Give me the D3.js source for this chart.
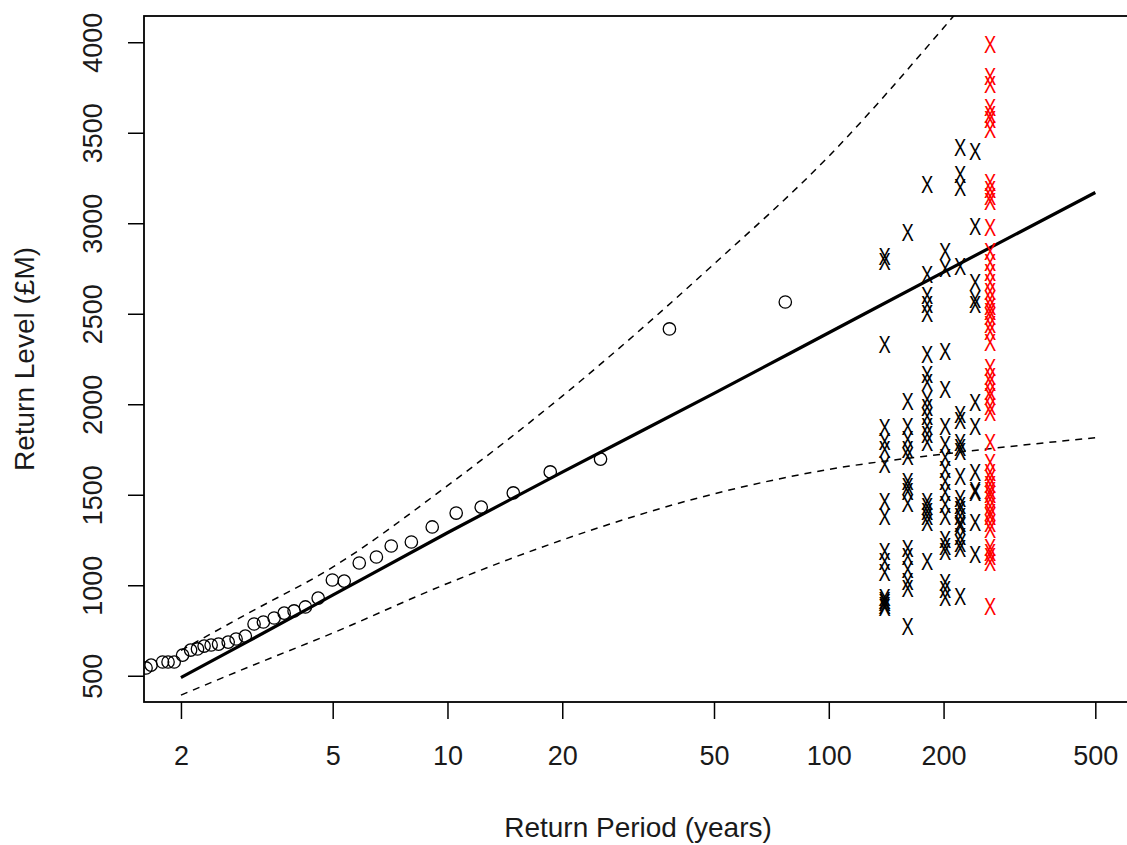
<!DOCTYPE html>
<html>
<head>
<meta charset="utf-8">
<script src="https://cdn.jsdelivr.net/npm/d3@7"></script>
<style>
  body { margin: 0; background: #fff; }
  svg { display: block; font-family: "Liberation Sans", Arial, sans-serif; }
</style>
</head>
<body>
<div id="chart"></div>
<script>
// fitted return level curve and its confidence band
const returnPeriods = [2, 3, 5, 10, 20, 50, 100, 200, 500];
const returnLevel = [490, 690, 945, 1290, 1625, 2060, 2395, 2730, 3170];
const upperCI = [640, 845, 1100, 1550, 2045, 2775, 3370, 4080, 5100];
const lowerCI = [393, 547, 736, 1010, 1250, 1505, 1640, 1725, 1815];

// empirical points (circles)
const obsPeriod = [1.62, 1.67, 1.79, 1.85, 1.92, 2.02, 2.12, 2.21, 2.30, 2.40, 2.51, 2.66, 2.79, 2.95,
  3.11, 3.29, 3.51, 3.73, 3.96, 4.24, 4.58, 4.99, 5.36, 5.87, 6.51, 7.12, 8.04, 9.12, 10.54,
  12.26, 14.88, 18.6, 25.2, 38.2, 76.9];
const obsLevel = [543, 559, 576, 576, 576, 614, 642, 648, 664, 670, 675, 686, 703, 719,
  786, 797, 819, 846, 858, 880, 929, 1029, 1023, 1123, 1156, 1217, 1239, 1322, 1399,
  1432, 1510, 1626, 1697, 2416, 2565];

// simulated values (black X columns)
const simPeriods = [140, 161, 181, 202, 221, 242];
const sim140 = [2813, 2785, 2328, 1869, 1791, 1747, 1664, 1460, 1377, 1184, 1128, 1068, 929, 915, 902, 888, 874];
const sim161 = [2946, 2014, 1876, 1802, 1747, 1710, 1572, 1544, 1517, 1453, 1204, 1158, 1084, 1019, 983, 771];
const sim181 = [3212, 2714, 2600, 2550, 2500, 2271, 2162, 2117, 2023, 1979, 1930, 1875, 1830, 1786,
  1460, 1432, 1405, 1377, 1344, 1128];
const sim202 = [2841, 2750, 2289, 2079, 1876, 1775, 1703, 1637, 1571, 1510, 1443, 1377, 1250, 1211, 1184, 1012, 973, 929];
const sim221 = [3416, 3267, 3195, 2758, 1940, 1910, 1790, 1760, 1740, 1598, 1480, 1440, 1415, 1377,
  1340, 1322, 1266, 1230, 1200, 935];
const sim242 = [3394, 2979, 2669, 2580, 2548, 2007, 1875, 1620, 1525, 1510, 1344, 1167];
const simLevels = [sim140, sim161, sim181, sim202, sim221, sim242];

// red X column
const redPeriod = 265;
const redLevels = [3985, 3810, 3764, 3637, 3598, 3571, 3516, 3222, 3184, 3145, 3117, 2974, 2841, 2780,
  2725, 2669, 2620, 2576, 2540, 2510, 2482, 2440, 2399, 2338, 2200, 2150, 2117, 2070, 2040, 1985,
  1952, 1786, 1675, 1620, 1590, 1554, 1520, 1499, 1470, 1433, 1400, 1377, 1340, 1305, 1206, 1180,
  1156, 1123, 880];

const xTicks = [2, 5, 10, 20, 50, 100, 200, 500];
const yTicks = [500, 1000, 1500, 2000, 2500, 3000, 3500, 4000];

const W = 1127, H = 845;
const plot = { left: 144, right: 1132, top: 16, bottom: 702 };

const x = d3.scaleLog().domain([1.6, 624]).range([plot.left, plot.right]);
const y = d3.scaleLinear().domain([355, 4145]).range([plot.bottom, plot.top]);

const svg = d3.select('#chart').append('svg')
  .attr('width', W)
  .attr('height', H);

svg.append('defs').append('clipPath').attr('id', 'clip')
  .append('rect')
  .attr('x', plot.left).attr('y', plot.top)
  .attr('width', plot.right - plot.left).attr('height', plot.bottom - plot.top);

const textColor = '#1a1a1a';

// axes
const xAxis = d3.axisBottom(x).tickValues(xTicks).tickSize(17).tickSizeOuter(0).tickFormat(d3.format('d'));
const gx = svg.append('g').attr('transform', `translate(0,${plot.bottom})`).call(xAxis);
gx.select('.domain').remove();
gx.selectAll('line').attr('stroke', '#000').attr('stroke-width', 1.5);
gx.selectAll('text')
  .attr('y', 63).attr('dy', 0)
  .attr('fill', textColor)
  .style('font-size', '27px');

const yAxis = d3.axisLeft(y).tickValues(yTicks).tickSize(16).tickSizeOuter(0).tickFormat(d3.format('d'));
const gy = svg.append('g').attr('transform', `translate(${plot.left},0)`).call(yAxis);
gy.select('.domain').remove();
gy.selectAll('line').attr('stroke', '#000').attr('stroke-width', 1.5);
gy.selectAll('text')
  .attr('x', 0).attr('dy', 0)
  .attr('text-anchor', 'middle')
  .attr('transform', 'translate(-42,0) rotate(-90)')
  .attr('fill', textColor)
  .style('font-size', '27px');

// box
svg.append('rect')
  .attr('x', plot.left).attr('y', plot.top)
  .attr('width', plot.right - plot.left).attr('height', plot.bottom - plot.top)
  .attr('fill', 'none').attr('stroke', '#000').attr('stroke-width', 1.8);

// titles
svg.append('text')
  .attr('x', (plot.left + plot.right) / 2).attr('y', 837)
  .attr('text-anchor', 'middle')
  .attr('fill', textColor)
  .style('font-size', '28px')
  .text('Return Period (years)');

svg.append('text')
  .attr('transform', `translate(34,${(plot.top + plot.bottom) / 2}) rotate(-90)`)
  .attr('text-anchor', 'middle')
  .attr('fill', textColor)
  .style('font-size', '28px')
  .text('Return Level (£M)');

const inner = svg.append('g').attr('clip-path', 'url(#clip)');

const lineOf = vals => d3.line()
  .x((d, i) => x(returnPeriods[i]))
  .y(d => y(d))
  .curve(d3.curveMonotoneX)(vals);

// confidence band (dashed)
[upperCI, lowerCI].forEach(vals => {
  inner.append('path')
    .attr('d', lineOf(vals))
    .attr('fill', 'none')
    .attr('stroke', '#000')
    .attr('stroke-width', 1.5)
    .attr('stroke-dasharray', '7 6');
});

// fitted return level (thick)
inner.append('path')
  .attr('d', lineOf(returnLevel))
  .attr('fill', 'none')
  .attr('stroke', '#000')
  .attr('stroke-width', 3.2);

// circles
inner.selectAll('circle.obs')
  .data(obsPeriod.map((t, i) => ({ t, v: obsLevel[i] })))
  .enter().append('circle')
  .attr('class', 'obs')
  .attr('cx', d => x(d.t))
  .attr('cy', d => y(d.v))
  .attr('r', 6.2)
  .attr('fill', 'none')
  .attr('stroke', '#000')
  .attr('stroke-width', 1.3);

// X markers, drawn as the letter like R's pch = "X"
const markers = [];
simPeriods.forEach((t, j) => simLevels[j].forEach(v => markers.push({ t, v, c: '#000' })));
redLevels.forEach(v => markers.push({ t: redPeriod, v, c: '#ff0000' }));

inner.selectAll('text.mark')
  .data(markers)
  .enter().append('text')
  .attr('class', 'mark')
  .attr('transform', d => `translate(${x(d.t)},${y(d.v)}) scale(0.8,1)`)
  .attr('y', '0.36em')
  .attr('text-anchor', 'middle')
  .attr('fill', d => d.c)
  .style('font-size', '23px')
  .text('X');
</script>
</body>
</html>
